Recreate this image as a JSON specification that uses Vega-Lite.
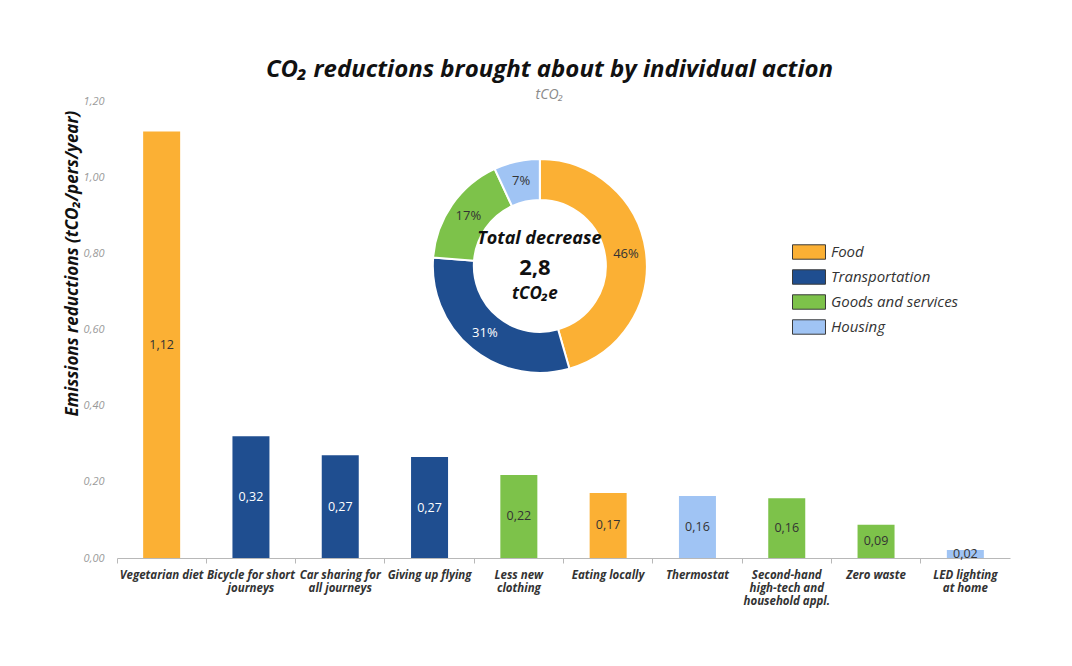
{
  "$schema": "https://vega.github.io/schema/vega-lite/v6.json",
  "width": 893,
  "height": 457,
  "autosize": {"type": "none"},
  "padding": {"left": 117, "top": 101, "right": 62, "bottom": 108},
  "background": "white",
  "title": {
    "text": "CO₂ reductions brought about by individual action",
    "subtitle": "tCO₂",
    "anchor": "middle",
    "dx": -14,
    "offset": -7,
    "font": "Open Sans",
    "fontSize": 24,
    "fontStyle": "italic",
    "fontWeight": "bold",
    "color": "#111111",
    "subtitleFont": "Open Sans",
    "subtitleFontSize": 14,
    "subtitleFontStyle": "italic",
    "subtitleColor": "#8a8a8a",
    "subtitlePadding": 6
  },
  "datasets": {
    "actions": [
      {"action": "Vegetarian diet", "value": 1.12, "category": "Food"},
      {"action": "Bicycle for short|journeys", "value": 0.32, "category": "Transportation"},
      {"action": "Car sharing for|all journeys", "value": 0.27, "category": "Transportation"},
      {"action": "Giving up flying", "value": 0.265, "category": "Transportation"},
      {"action": "Less new|clothing", "value": 0.218, "category": "Goods and services"},
      {"action": "Eating locally", "value": 0.171, "category": "Food"},
      {"action": "Thermostat", "value": 0.163, "category": "Housing"},
      {"action": "Second-hand|high-tech and|household appl.", "value": 0.157, "category": "Goods and services"},
      {"action": "Zero waste", "value": 0.087, "category": "Goods and services"},
      {"action": "LED lighting|at home", "value": 0.021, "category": "Housing"}
    ],
    "shares": [
      {"category": "Food", "pct": 0.46},
      {"category": "Transportation", "pct": 0.31},
      {"category": "Goods and services", "pct": 0.17},
      {"category": "Housing", "pct": 0.07}
    ],
    "centre": [
      {"line": "Total decrease"}
    ]
  },
  "layer": [
    {
      "data": {"name": "actions"},
      "mark": {"type": "bar", "width": 37},
      "encoding": {
        "x": {
          "field": "action",
          "type": "nominal",
          "sort": null,
          "scale": {
            "domain": ["Vegetarian diet", "Bicycle for short|journeys", "Car sharing for|all journeys", "Giving up flying", "Less new|clothing", "Eating locally", "Thermostat", "Second-hand|high-tech and|household appl.", "Zero waste", "LED lighting|at home"],
            "paddingInner": 0,
            "paddingOuter": 0
          },
          "axis": {
            "title": null,
            "labelAngle": 0,
            "labelExpr": "split(datum.label, '|')",
            "labelFont": "Open Sans",
            "labelFontSize": 11.5,
            "labelFontStyle": "italic",
            "labelFontWeight": "bold",
            "labelColor": "#333333",
            "labelLineHeight": 13,
            "labelPadding": 6,
            "labelBaseline": "top",
            "bandPosition": 0,
            "ticks": true,
            "tickSize": 5,
            "tickColor": "#b8b8b8",
            "domainColor": "#b8b8b8",
            "labelLimit": 200
          }
        },
        "y": {
          "field": "value",
          "type": "quantitative",
          "scale": {"domain": [0, 1.2], "nice": false},
          "axis": {
            "title": "Emissions reductions (tCO₂/pers/year)",
            "values": [0, 0.2, 0.4, 0.6, 0.8, 1.0, 1.2],
            "format": ".2f",
            "domain": false,
            "ticks": false,
            "grid": false,
            "labelFont": "Open Sans",
            "labelFontSize": 11,
            "labelFontStyle": "italic",
            "labelColor": "#9a9a9a",
            "labelPadding": 13,
            "titleFont": "Open Sans",
            "titleFontSize": 17,
            "titleFontStyle": "italic",
            "titleFontWeight": "bold",
            "titleColor": "#111111",
            "titleX": -45,
            "titleY": 162,
            "titleAngle": -90,
            "titleBaseline": "middle",
            "titleAlign": "center"
          }
        },
        "color": {
          "field": "category",
          "type": "nominal",
          "scale": {
            "domain": ["Food", "Transportation", "Goods and services", "Housing"],
            "range": ["#FBB034", "#1F4E90", "#7DC24A", "#A0C4F4"]
          },
          "legend": {
            "title": null,
            "orient": "none",
            "legendX": 681,
            "legendY": 140,
            "symbolType": "M-1.6,-0.7H1.6V0.7H-1.6Z",
            "symbolSize": 425,
            "symbolStrokeColor": "#3a3a3a",
            "symbolStrokeWidth": 1,
            "symbolOpacity": 1,
            "labelFont": "Open Sans",
            "labelFontSize": 15,
            "labelFontStyle": "italic",
            "labelColor": "#333333",
            "labelOffset": 11,
            "rowPadding": 4,
            "padding": 0
          }
        }
      }
    },
    {
      "data": {"name": "actions"},
      "mark": {"type": "text", "font": "Open Sans", "fontSize": 12.5, "baseline": "middle", "align": "center"},
      "encoding": {
        "x": {"field": "action", "type": "nominal", "sort": null},
        "y": {"field": "value", "type": "quantitative", "stack": "zero", "bandPosition": 0.5},
        "text": {"field": "value", "type": "quantitative", "format": ".2f"},
        "color": {
          "condition": {"test": "datum.category === 'Transportation'", "value": "#ffffff"},
          "value": "#333333"
        }
      }
    },
    {
      "data": {"name": "shares"},
      "mark": {"type": "arc", "innerRadius": 66, "outerRadius": 107, "stroke": "#ffffff", "strokeWidth": 2},
      "encoding": {
        "x": {"datum": "Less new|clothing", "type": "nominal", "bandPosition": 0.735},
        "y": {"datum": 0.767, "type": "quantitative"},
        "theta": {"field": "pct", "type": "quantitative", "stack": true},
        "order": {"field": "pct", "sort": "descending"},
        "color": {"field": "category", "type": "nominal", "legend": null}
      }
    },
    {
      "data": {"name": "shares"},
      "mark": {"type": "text", "font": "Open Sans", "fontSize": 13, "radius": 87, "baseline": "middle", "align": "center"},
      "encoding": {
        "x": {"datum": "Less new|clothing", "type": "nominal", "bandPosition": 0.735},
        "y": {"datum": 0.767, "type": "quantitative"},
        "theta": {"field": "pct", "type": "quantitative", "stack": true},
        "order": {"field": "pct", "sort": "descending"},
        "text": {"field": "pct", "type": "quantitative", "format": ".0%"},
        "color": {
          "condition": {"test": "datum.category === 'Transportation'", "value": "#ffffff"},
          "value": "#333333"
        }
      }
    },
    {
      "data": {"name": "centre"},
      "mark": {"type": "text", "text": "Total decrease", "font": "Open Sans", "fontSize": 18, "fontStyle": "italic", "fontWeight": "bold", "color": "#111111", "baseline": "middle", "align": "center"},
      "encoding": {
        "x": {"datum": "Less new|clothing", "type": "nominal", "bandPosition": 0.73},
        "y": {"datum": 0.838, "type": "quantitative"}
      }
    },
    {
      "data": {"name": "centre"},
      "mark": {"type": "text", "text": "2,8", "font": "Open Sans", "fontSize": 22, "fontWeight": "bold", "color": "#111111", "baseline": "middle", "align": "center"},
      "encoding": {
        "x": {"datum": "Less new|clothing", "type": "nominal", "bandPosition": 0.68},
        "y": {"datum": 0.762, "type": "quantitative"}
      }
    },
    {
      "data": {"name": "centre"},
      "mark": {"type": "text", "text": "tCO₂e", "font": "Open Sans", "fontSize": 17, "fontStyle": "italic", "fontWeight": "bold", "color": "#111111", "baseline": "middle", "align": "center"},
      "encoding": {
        "x": {"datum": "Less new|clothing", "type": "nominal", "bandPosition": 0.68},
        "y": {"datum": 0.692, "type": "quantitative"}
      }
    }
  ],
  "config": {
    "locale": {"number": {"decimal": ",", "thousands": ".", "grouping": [3], "currency": ["", " €"]}},
    "view": {"stroke": null},
    "axis": {"grid": false}
  }
}
